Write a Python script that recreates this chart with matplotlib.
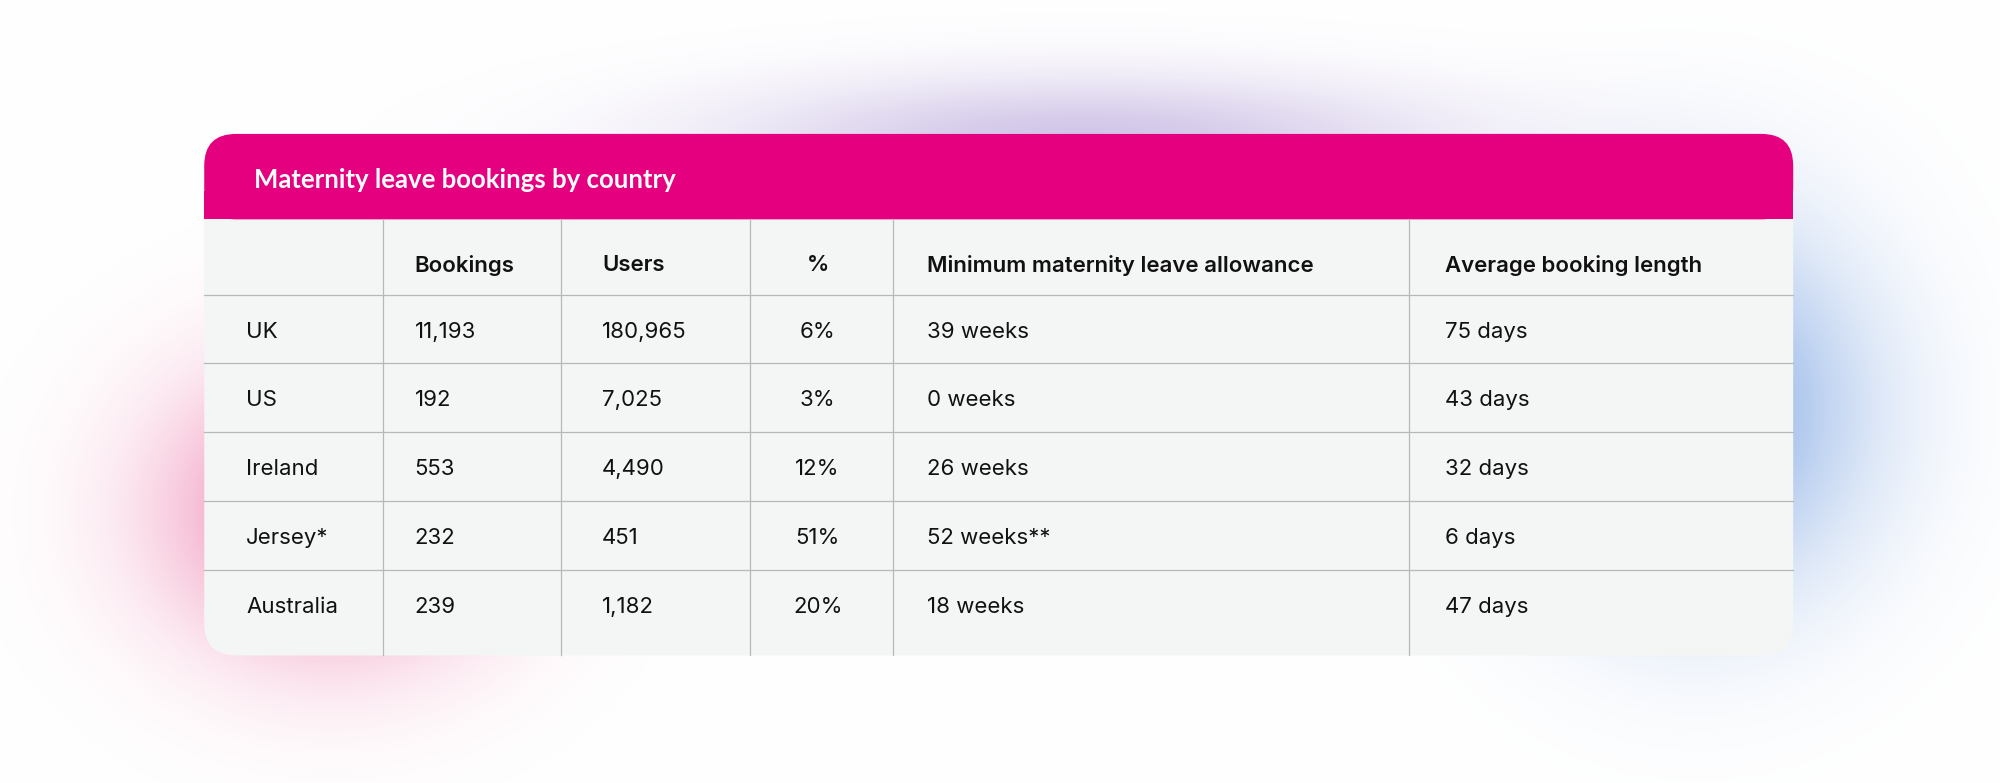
import matplotlib.pyplot as plt
from matplotlib.patches import FancyBboxPatch, Rectangle
import numpy as np

title = "Maternity leave bookings by country"
columns = ["", "Bookings", "Users", "%", "Minimum maternity leave allowance", "Average booking length"]
countries = ["UK", "US", "Ireland", "Jersey*", "Australia"]
bookings = ["11,193", "192", "553", "232", "239"]
users = ["180,965", "7,025", "4,490", "451", "1,182"]
percent = ["6%", "3%", "12%", "51%", "20%"]
min_leave = ["39 weeks", "0 weeks", "26 weeks", "52 weeks**", "18 weeks"]
avg_length = ["75 days", "43 days", "32 days", "6 days", "47 days"]

W, H = 1568, 614
fig = plt.figure(figsize=(20, 7.83), dpi=100)
ax = fig.add_axes([0, 0, 1, 1])
ax.set_xlim(0, W)
ax.set_ylim(H, 0)
ax.axis("off")

# soft coloured glow behind the card
yy, xx = np.mgrid[0:H, 0:W]
img = np.ones((H, W, 3))
def blob(cx, cy, sx, sy, col, a):
    g = a * np.exp(-(((xx - cx) / sx) ** 2 + ((yy - cy) / sy) ** 2))
    for i in range(3):
        img[..., i] = img[..., i] * (1 - g) + col[i] * g
blob(260, 400, 130, 110, (0.92, 0.40, 0.62), 0.8)
blob(1330, 320, 130, 140, (0.45, 0.62, 0.88), 0.8)
blob(850, 110, 280, 50, (0.6, 0.5, 0.8), 0.45)
ax.imshow(img, extent=(0, W, H, 0), zorder=0)

x0, x1, y0, y1 = 160, 1406, 105, 514
pink = "#e4007e"
ax.add_patch(FancyBboxPatch((x0, y0), x1 - x0, y1 - y0,
             boxstyle="round,pad=0,rounding_size=25", fc="#f4f5f5", ec="none", zorder=1))
ax.add_patch(FancyBboxPatch((x0, y0), x1 - x0, 67,
             boxstyle="round,pad=0,rounding_size=25", fc=pink, ec="none", zorder=2))
ax.add_patch(Rectangle((x0, 150), x1 - x0, 22, fc=pink, ec="none", zorder=2))
ax.text(199, 141, title, color="white", fontsize=18.5, fontweight="bold",
        family="Lato", va="center", zorder=3)

row_edges = [172, 231, 285, 339, 393, 447, 514]
col_edges = [300, 440, 588, 700, 1105]
lc = "#b8b8b8"
for y in row_edges[1:-1]:
    ax.plot([x0, x1], [y, y], color=lc, lw=0.9, zorder=3)
for x in col_edges:
    ax.plot([x, x], [172, 514], color=lc, lw=0.9, zorder=3)

col_x = [193, 325, 472, 641, 727, 1133]
aligns = ["left", "left", "left", "center", "left", "left"]
fs = 16
for j, c in enumerate(columns):
    ax.text(col_x[j], 208, c, fontsize=fs, fontweight="semibold", family="Inter",
            ha=aligns[j], va="center", color="#111111", zorder=4)
rows = list(zip(countries, bookings, users, percent, min_leave, avg_length))
for i, r in enumerate(rows):
    yc = (row_edges[i + 1] + row_edges[i + 2]) / 2 + 2 if i < 4 else 476
    for j, v in enumerate(r):
        ax.text(col_x[j], yc, v, fontsize=fs, family="Inter", ha=aligns[j],
                va="center", color="#111111", zorder=4)

fig.savefig("out.png", dpi=100)
